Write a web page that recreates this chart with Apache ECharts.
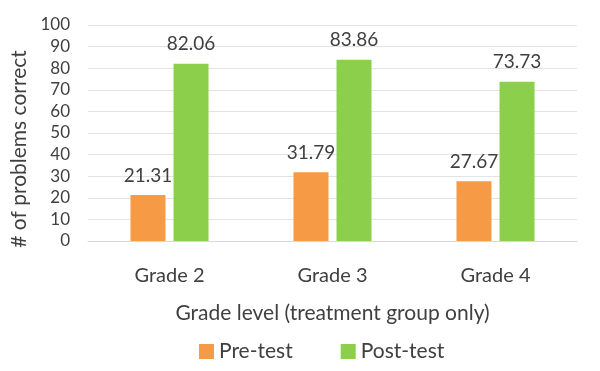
<!DOCTYPE html>
<html><head><meta charset="utf-8">
<script src="https://cdn.jsdelivr.net/npm/echarts@6/dist/echarts.min.js"></script>
<style>html,body{margin:0;padding:0;background:#fff}#c{width:600px;height:371px}</style>
</head><body><div id="c"></div>
<script>
const categories = ['Grade 2', 'Grade 3', 'Grade 4'];
const preTest = [21.31, 31.79, 27.67];
const postTest = [82.06, 83.86, 73.73];
const seriesNames = ['Pre-test', 'Post-test'];
const yTicks = [0, 10, 20, 30, 40, 50, 60, 70, 80, 90, 100];

const font = 'Lato';
const textColor = '#404040';
const chart = echarts.init(document.getElementById('c'), null, {renderer: 'canvas'});
chart.setOption({
  animation: false,
  textStyle: {fontFamily: font},
  legend: {
    data: seriesNames,
    top: 336,
    left: 194,
    itemWidth: 15, itemHeight: 15, itemGap: 48,
    icon: 'rect',
    textStyle: {fontFamily: font, fontSize: 21, color: textColor}
  },
  grid: {left: 88, right: 23, top: 25, bottom: 130, containLabel: false},
  xAxis: {
    type: 'category',
    data: categories,
    name: 'Grade level (treatment group only)',
    nameLocation: 'middle',
    nameGap: 62,
    nameTextStyle: {fontFamily: font, fontSize: 21, color: textColor},
    axisLine: {lineStyle: {color: '#d9d9d9', width: 1}},
    axisTick: {show: false},
    axisLabel: {fontFamily: font, fontSize: 20, color: textColor, margin: 25}
  },
  yAxis: {
    type: 'value',
    min: yTicks[0], max: yTicks[yTicks.length - 1], interval: 10,
    name: '# of problems correct',
    nameLocation: 'middle',
    nameGap: 43,
    nameTextStyle: {fontFamily: font, fontSize: 21, color: textColor, padding: [0, 0, 0, -32]},
    axisLine: {show: false},
    axisTick: {show: false},
    splitLine: {lineStyle: {color: '#e3e3e3', width: 1}},
    axisLabel: {fontFamily: font, fontSize: 17, color: textColor, margin: 18}
  },
  series: [
    {
      name: seriesNames[0], type: 'bar', data: preTest,
      barWidth: 35, barGap: '23%',
      itemStyle: {color: '#F79A45'},
      label: {show: true, position: 'top', distance: 10, fontFamily: font, fontSize: 19, color: textColor, formatter: p => p.value.toFixed(2)}
    },
    {
      name: seriesNames[1], type: 'bar', data: postTest,
      barWidth: 35, barGap: '23%',
      itemStyle: {color: '#8CCF4A'},
      label: {show: true, position: 'top', distance: 10, fontFamily: font, fontSize: 19, color: textColor, formatter: p => p.value.toFixed(2)}
    }
  ]
});
</script></body></html>
